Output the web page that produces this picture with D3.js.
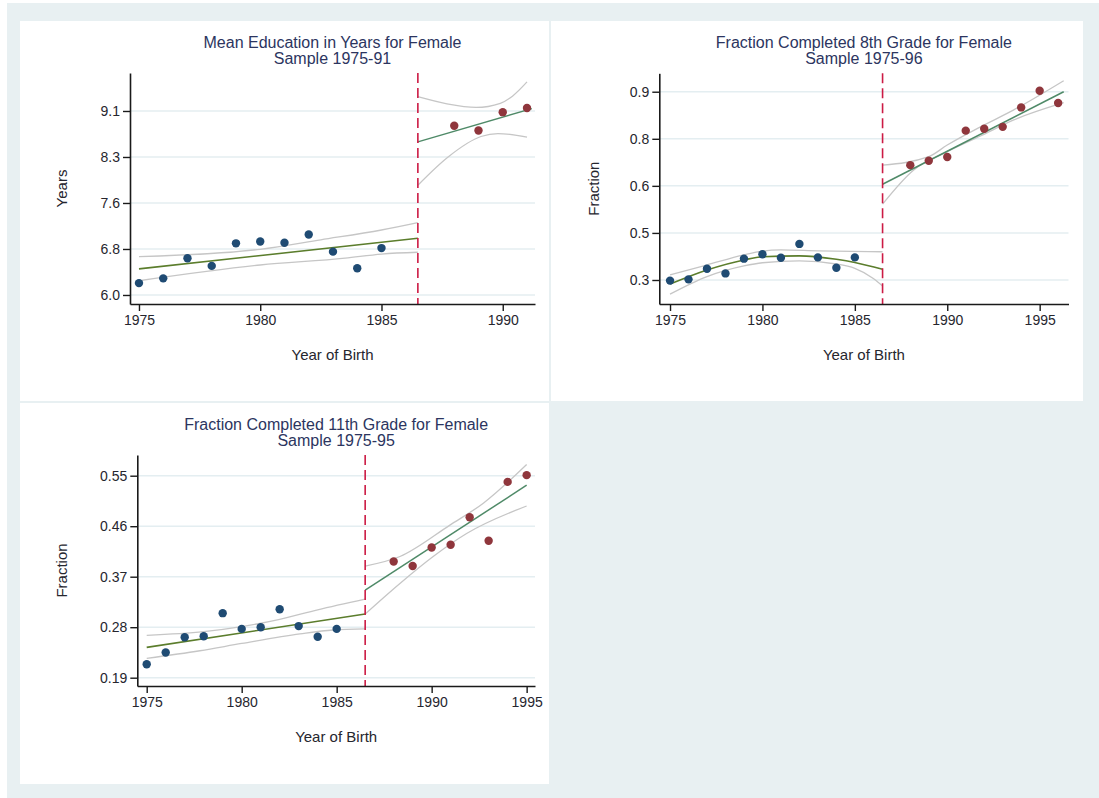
<!DOCTYPE html>
<html>
<head>
<meta charset="utf-8">
<script src="https://cdn.jsdelivr.net/npm/d3@7"></script>
<style>
  body { margin: 0; background: #ffffff; }
  svg { display: block; font-family: "Liberation Sans", Arial, sans-serif; }
</style>
</head>
<body>
<svg id="chart" width="1099" height="798"></svg>
<script>
// ---------- Panel 1: mean years of education ----------
const eduTitle = ["Mean Education in Years for Female", "Sample 1975-91"];
const eduYearsPre = [1975, 1976, 1977, 1978, 1979, 1980, 1981, 1982, 1983, 1984, 1985];
const eduPre = [6.20, 6.28, 6.62, 6.49, 6.87, 6.90, 6.88, 7.02, 6.73, 6.45, 6.79];
const eduYearsPost = [1988, 1989, 1990, 1991];
const eduPost = [8.85, 8.77, 9.08, 9.15];
const eduFitPreX = [1975, 1986.5];
const eduFitPre = [6.44, 6.955];
const eduHiPreX = [1975, 1980, 1982.5, 1985, 1986.5];
const eduHiPre = [6.645, 6.77, 6.93, 7.095, 7.22];
const eduLoPreX = [1975, 1980, 1983.5, 1985, 1986.5];
const eduLoPre = [6.24, 6.505, 6.62, 6.69, 6.72];
const eduFitPostX = [1986.5, 1991.2];
const eduFitPost = [8.58, 9.14];
const eduHiPostX = [1986.5, 1987.7, 1988.9, 1989.9, 1990.4, 1991.0];
const eduHiPost = [9.34, 9.22, 9.16, 9.23, 9.35, 9.59];
const eduLoPostX = [1986.5, 1987.76, 1989.1, 1989.8, 1991.0];
const eduLoPost = [7.85, 8.33, 8.67, 8.72, 8.66];
const eduYTicks = [6.0, 6.775, 7.55, 8.325, 9.1];
const eduYLabels = ["6.0", "6.8", "7.6", "8.3", "9.1"];
const eduXTicks = [1975, 1980, 1985, 1990];

// ---------- Panel 2: completed 8th grade ----------
const g8Title = ["Fraction Completed 8th Grade for Female", "Sample 1975-96"];
const g8YearsPre = [1975, 1976, 1977, 1978, 1979, 1980, 1981, 1982, 1983, 1984, 1985];
const g8Pre = [0.298, 0.302, 0.336, 0.321, 0.368, 0.382, 0.371, 0.415, 0.372, 0.339, 0.372];
const g8YearsPost = [1988, 1989, 1990, 1991, 1992, 1993, 1994, 1995, 1996];
const g8Post = [0.666, 0.680, 0.692, 0.776, 0.782, 0.788, 0.850, 0.903, 0.864];
const g8FitPreX = [1975, 1977, 1979, 1980, 1982, 1984, 1985, 1986.5];
const g8FitPre = [0.287, 0.332, 0.364, 0.374, 0.377, 0.366, 0.356, 0.334];
const g8HiPreX = [1975, 1977, 1979, 1980, 1981, 1983, 1986.5];
const g8HiPre = [0.316, 0.348, 0.380, 0.392, 0.396, 0.393, 0.390];
const g8LoPreX = [1975, 1977, 1979, 1980, 1982, 1984, 1985, 1986, 1986.5];
const g8LoPre = [0.255, 0.311, 0.345, 0.355, 0.361, 0.351, 0.337, 0.305, 0.281];
const g8FitPostX = [1986.5, 1996.3];
const g8FitPost = [0.605, 0.90];
const g8HiPostX = [1986.5, 1989, 1990, 1991.8, 1993.6, 1996.3];
const g8HiPost = [0.666, 0.693, 0.730, 0.788, 0.842, 0.935];
const g8LoPostX = [1986.5, 1988.17, 1990, 1991.8, 1993.6, 1996.3];
const g8LoPost = [0.542, 0.650, 0.709, 0.759, 0.810, 0.865];
const g8YTicks = [0.3, 0.45, 0.6, 0.75, 0.9];
const g8YLabels = ["0.3", "0.5", "0.6", "0.8", "0.9"];
const g8XTicks = [1975, 1980, 1985, 1990, 1995];

// ---------- Panel 3: completed 11th grade ----------
const g11Title = ["Fraction Completed 11th Grade for Female", "Sample 1975-95"];
const g11YearsPre = [1975, 1976, 1977, 1978, 1979, 1980, 1981, 1982, 1983, 1984, 1985];
const g11Pre = [0.214, 0.235, 0.262, 0.264, 0.305, 0.277, 0.280, 0.312, 0.282, 0.263, 0.277];
const g11YearsPost = [1988, 1989, 1990, 1991, 1992, 1993, 1994, 1995];
const g11Post = [0.397, 0.389, 0.422, 0.427, 0.476, 0.434, 0.539, 0.551];
const g11FitPreX = [1975, 1986.5];
const g11FitPre = [0.244, 0.3035];
const g11HiPreX = [1975, 1978, 1980, 1982, 1984, 1986.5];
const g11HiPre = [0.2656, 0.272, 0.281, 0.294, 0.311, 0.330];
const g11LoPreX = [1975, 1977.8, 1980, 1983.07, 1984.8, 1986.5];
const g11LoPre = [0.2245, 0.238, 0.251, 0.268, 0.275, 0.277];
const g11FitPostX = [1986.5, 1995];
const g11FitPost = [0.346, 0.533];
const g11HiPostX = [1986.5, 1988.33, 1990.96, 1992.72, 1995];
const g11HiPost = [0.389, 0.406, 0.462, 0.501, 0.570];
const g11LoPostX = [1986.5, 1988.33, 1990.08, 1991.84, 1995];
const g11LoPost = [0.3035, 0.358, 0.406, 0.447, 0.496];
const g11YTicks = [0.19, 0.28, 0.37, 0.46, 0.55];
const g11YLabels = ["0.19", "0.28", "0.37", "0.46", "0.55"];
const g11XTicks = [1975, 1980, 1985, 1990, 1995];

const cutoffYear = 1986.5;

const zip = (xs, ys) => xs.map((x, i) => [x, ys[i]]);

const svg = d3.select("#chart");

// outer backdrop and panel cards
svg.append("rect").attr("x", 7).attr("y", 3).attr("width", 1092).attr("height", 795).attr("fill", "#e8f0f2");
const cards = [
  {x: 20, y: 21, w: 529, h: 380},
  {x: 551, y: 21, w: 532, h: 380},
  {x: 20, y: 403, w: 529, h: 381}
];
cards.forEach(c => svg.append("rect").attr("x", c.x).attr("y", c.y)
  .attr("width", c.w).attr("height", c.h).attr("fill", "#ffffff"));

const panels = [
  {
    title: eduTitle, yTitle: "Years",
    xDomain: [1974.63, 1991.33], xRange: [130, 535],
    yDomain: [5.848, 9.74], yRange: [304, 73],
    xTicks: eduXTicks, yTicks: eduYTicks, yLabels: eduYLabels,
    pre: zip(eduYearsPre, eduPre), post: zip(eduYearsPost, eduPost),
    fitPre: zip(eduFitPreX, eduFitPre), hiPre: zip(eduHiPreX, eduHiPre), loPre: zip(eduLoPreX, eduLoPre),
    fitPost: zip(eduFitPostX, eduFitPost), hiPost: zip(eduHiPostX, eduHiPost), loPost: zip(eduLoPostX, eduLoPost),
    yTitleX: 62, titleY: 48
  },
  {
    title: g8Title, yTitle: "Fraction",
    xDomain: [1974.42, 1996.56], xRange: [659.3, 1068.5],
    yDomain: [0.2235, 0.9587], yRange: [304, 73.3],
    xTicks: g8XTicks, yTicks: g8YTicks, yLabels: g8YLabels,
    pre: zip(g8YearsPre, g8Pre), post: zip(g8YearsPost, g8Post),
    fitPre: zip(g8FitPreX, g8FitPre), hiPre: zip(g8HiPreX, g8HiPre), loPre: zip(g8LoPreX, g8LoPre),
    fitPost: zip(g8FitPostX, g8FitPost), hiPost: zip(g8HiPostX, g8HiPost), loPost: zip(g8LoPostX, g8LoPost),
    yTitleX: 594, titleY: 48
  },
  {
    title: g11Title, yTitle: "Fraction",
    xDomain: [1974.505, 1995.44], xRange: [137.3, 535],
    yDomain: [0.1752, 0.5869], yRange: [686, 455],
    xTicks: g11XTicks, yTicks: g11YTicks, yLabels: g11YLabels,
    pre: zip(g11YearsPre, g11Pre), post: zip(g11YearsPost, g11Post),
    fitPre: zip(g11FitPreX, g11FitPre), hiPre: zip(g11HiPreX, g11HiPre), loPre: zip(g11LoPreX, g11LoPre),
    fitPost: zip(g11FitPostX, g11FitPost), hiPost: zip(g11HiPostX, g11HiPost), loPost: zip(g11LoPostX, g11LoPost),
    yTitleX: 62, titleY: 430
  }
];

const textColor = "#26262e";
const titleColor = "#2c3560";

panels.forEach(p => {
  const x = d3.scaleLinear().domain(p.xDomain).range(p.xRange);
  const y = d3.scaleLinear().domain(p.yDomain).range(p.yRange);
  const g = svg.append("g");

  // horizontal grid
  g.append("g").selectAll("line").data(p.yTicks).join("line")
    .attr("x1", p.xRange[0]).attr("x2", p.xRange[1])
    .attr("y1", d => y(d)).attr("y2", d => y(d))
    .attr("stroke", "#e4eef1").attr("stroke-width", 1.5);

  // confidence bands
  const line = d3.line().x(d => x(d[0])).y(d => y(d[1])).curve(d3.curveMonotoneX);
  [p.hiPre, p.loPre, p.hiPost, p.loPost].forEach(s => {
    g.append("path").attr("d", line(s)).attr("fill", "none")
      .attr("stroke", "#c6c6c6").attr("stroke-width", 1.3);
  });
  // fitted lines
  g.append("path").attr("d", line(p.fitPre)).attr("fill", "none")
    .attr("stroke", "#5b7d2c").attr("stroke-width", 1.6);
  g.append("path").attr("d", line(p.fitPost)).attr("fill", "none")
    .attr("stroke", "#4f8a68").attr("stroke-width", 1.5);

  // points
  g.append("g").selectAll("circle").data(p.pre).join("circle")
    .attr("cx", d => x(d[0])).attr("cy", d => y(d[1])).attr("r", 4.2)
    .attr("fill", "#1f4b73");
  g.append("g").selectAll("circle").data(p.post).join("circle")
    .attr("cx", d => x(d[0])).attr("cy", d => y(d[1])).attr("r", 4.2)
    .attr("fill", "#8f363c");

  // cutoff
  g.append("line")
    .attr("x1", x(cutoffYear)).attr("x2", x(cutoffYear))
    .attr("y1", p.yRange[1]).attr("y2", p.yRange[0])
    .attr("stroke", "#cc1b45").attr("stroke-width", 1.6)
    .attr("stroke-dasharray", "10,5");

  // axes
  const xAxis = d3.axisBottom(x).tickValues(p.xTicks).tickFormat(d3.format("d"))
    .tickSize(7).tickSizeOuter(0).tickPadding(4);
  const yAxis = d3.axisLeft(y).tickValues(p.yTicks).tickFormat((d, i) => p.yLabels[i])
    .tickSize(7).tickSizeOuter(0).tickPadding(3);
  const gx = g.append("g").attr("transform", `translate(0,${p.yRange[0]})`).call(xAxis);
  const gy = g.append("g").attr("transform", `translate(${p.xRange[0]},0)`).call(yAxis);
  [gx, gy].forEach(a => {
    a.select(".domain").attr("stroke", "#1a1a1a").attr("stroke-width", 1.6);
    a.selectAll(".tick line").attr("stroke", "#1a1a1a").attr("stroke-width", 1.4);
    a.selectAll(".tick text").attr("fill", textColor)
      .style("font-family", "'Liberation Sans', Arial, sans-serif").style("font-size", "14px");
  });

  // axis titles
  g.append("text").attr("x", (p.xRange[0] + p.xRange[1]) / 2).attr("y", p.yRange[0] + 56)
    .attr("text-anchor", "middle").attr("fill", textColor).style("font-size", "15px")
    .text("Year of Birth");
  g.append("text").attr("transform", `translate(${p.yTitleX},${(p.yRange[0] + p.yRange[1]) / 2}) rotate(-90)`)
    .attr("text-anchor", "middle").attr("dy", "0.35em").attr("fill", textColor).style("font-size", "15px")
    .text(p.yTitle);

  // title
  const cx = (p.xRange[0] + p.xRange[1]) / 2;
  p.title.forEach((t, i) => {
    g.append("text").attr("x", cx).attr("y", p.titleY + i * 16)
      .attr("text-anchor", "middle").attr("fill", titleColor).style("font-size", "16px")
      .text(t);
  });
});
</script>
</body>
</html>
